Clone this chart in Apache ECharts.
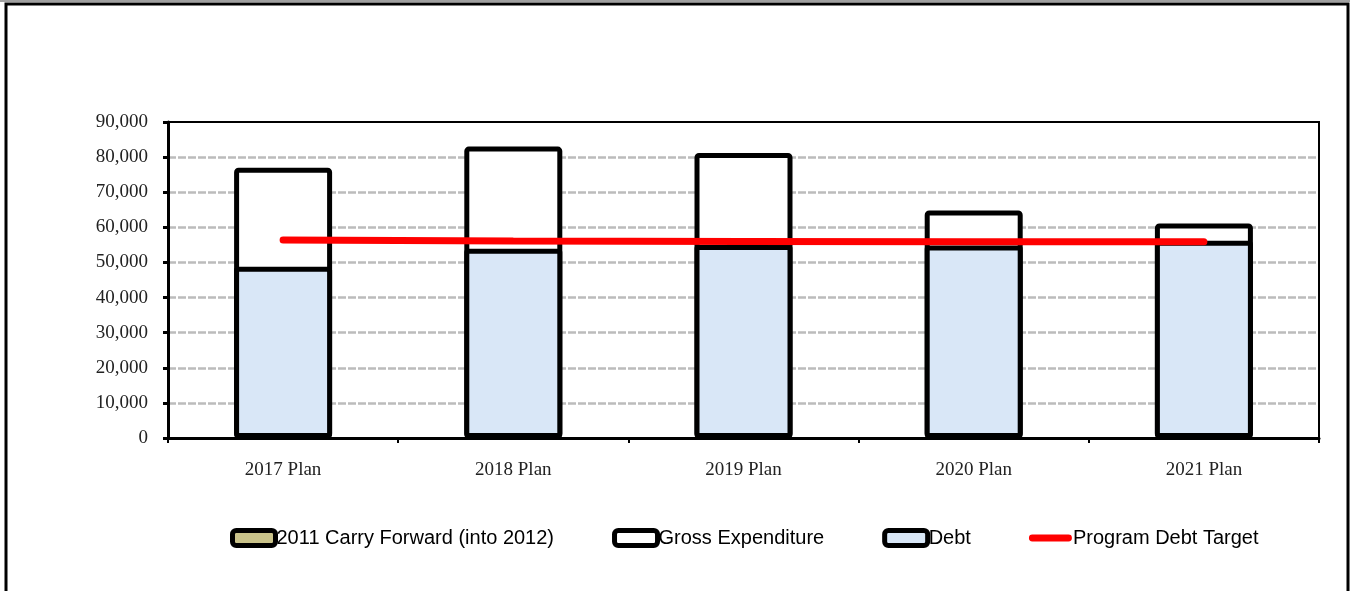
<!DOCTYPE html>
<html>
<head>
<meta charset="utf-8">
<script src="https://cdn.jsdelivr.net/npm/echarts@6/dist/echarts.min.js"></script>
<style>html,body{margin:0;padding:0;background:#fff}#c{width:1350px;height:591px}</style>
</head>
<body>
<div id="c"></div>
<script>
var categories = ['2017 Plan', '2018 Plan', '2019 Plan', '2020 Plan', '2021 Plan'];
var carryForward = [];
var grossExpenditure = [77000, 83000, 81200, 64800, 61100];
var debt = [48800, 53900, 55000, 54800, 56200];
var programDebtTarget = [56400, 56100, 56000, 55900, 55900];
var legendNames = ['2011 Carry Forward (into 2012)', 'Gross Expenditure', 'Debt', 'Program Debt Target'];

var chart = echarts.init(document.getElementById('c'), null, {renderer: 'canvas'});
chart.setOption({
  animation: false,
  backgroundColor: '#fff',
  graphic: [
    {type: 'rect', shape: {x: 6, y: 4, width: 1342, height: 600}, style: {fill: 'none', stroke: '#000', lineWidth: 3}, z: 100},
    {type: 'line', shape: {x1: 0, y1: 1, x2: 1350, y2: 1}, style: {stroke: '#a0a0a0', lineWidth: 2}, z: 100}
  ],
  grid: {left: 168, right: 31, top: 122, bottom: 153, show: true, borderColor: '#000', borderWidth: 2, containLabel: false, z: 3},
  legend: {
    left: 225, top: 523,
    itemWidth: 43, itemHeight: 15, itemGap: 58,
    textStyle: {fontFamily: 'Liberation Sans', fontSize: 20, color: '#000', padding: [0, 0, 0, -4]},
    data: [
      {name: legendNames[0], icon: 'roundRect', itemStyle: {color: '#c9c28a', borderColor: '#000', borderWidth: 5}},
      {name: legendNames[1], icon: 'roundRect', itemStyle: {color: '#fff', borderColor: '#000', borderWidth: 5}},
      {name: legendNames[2], icon: 'roundRect', itemStyle: {color: '#d9e7f7', borderColor: '#000', borderWidth: 5}},
      {name: legendNames[3], icon: 'path://M4,0 L46,0 A4,4 0 0 1 46,8 L4,8 A4,4 0 0 1 4,0 Z', itemStyle: {color: '#ff0000'}}
    ]
  },
  xAxis: {
    type: 'category',
    data: categories,
    axisLine: {lineStyle: {color: '#000', width: 3}},
    axisTick: {show: true, length: 5, lineStyle: {color: '#000', width: 2}},
    axisLabel: {fontFamily: 'Liberation Serif', fontSize: 19, color: '#222', margin: 23},
    splitLine: {show: false}
  },
  yAxis: {
    type: 'value', min: 0, max: 90000, interval: 10000,
    axisLine: {show: true, lineStyle: {color: '#000', width: 3}},
    axisTick: {show: true, length: 5, lineStyle: {color: '#000', width: 3}},
    axisLabel: {fontFamily: 'Liberation Serif', fontSize: 19, color: '#222', margin: 20,
      formatter: function (v) { return v.toLocaleString('en-US'); }},
    splitLine: {show: true, showMaxLine: false, lineStyle: {color: '#bcbcbc', width: 2.5, type: [8, 2]}}
  },
  series: [
    {name: legendNames[0], type: 'bar', data: carryForward, barWidth: 98, barGap: '-100%',
      itemStyle: {color: '#c9c28a', borderColor: '#000', borderWidth: 5}},
    {name: legendNames[1], type: 'bar', data: grossExpenditure, barWidth: 98, barGap: '-100%',
      itemStyle: {color: '#fff', borderColor: '#000', borderWidth: 5, borderRadius: 2}},
    {name: legendNames[2], type: 'bar', data: debt, barWidth: 98, barGap: '-100%',
      itemStyle: {color: '#d9e7f7', borderColor: '#000', borderWidth: 5, borderRadius: 1}},
    {name: legendNames[3], type: 'line', data: programDebtTarget, symbol: 'none', showSymbol: false, z: 5,
      lineStyle: {color: '#ff0000', width: 7, cap: 'round'}, itemStyle: {color: '#ff0000'}}
  ]
});
</script>
</body>
</html>
